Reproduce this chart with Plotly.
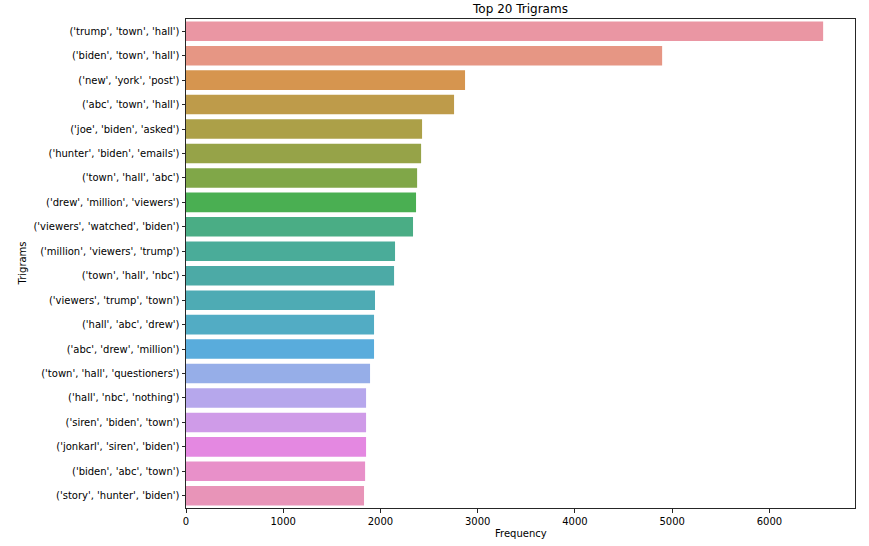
import plotly.graph_objects as go

trigrams = [
    "('trump', 'town', 'hall')",
    "('biden', 'town', 'hall')",
    "('new', 'york', 'post')",
    "('abc', 'town', 'hall')",
    "('joe', 'biden', 'asked')",
    "('hunter', 'biden', 'emails')",
    "('town', 'hall', 'abc')",
    "('drew', 'million', 'viewers')",
    "('viewers', 'watched', 'biden')",
    "('million', 'viewers', 'trump')",
    "('town', 'hall', 'nbc')",
    "('viewers', 'trump', 'town')",
    "('hall', 'abc', 'drew')",
    "('abc', 'drew', 'million')",
    "('town', 'hall', 'questioners')",
    "('hall', 'nbc', 'nothing')",
    "('siren', 'biden', 'town')",
    "('jonkarl', 'siren', 'biden')",
    "('biden', 'abc', 'town')",
    "('story', 'hunter', 'biden')",
]
frequency = [6553, 4897, 2870, 2757, 2428, 2418, 2377, 2366, 2335, 2150,
             2140, 1944, 1934, 1934, 1893, 1852, 1852, 1852, 1842, 1831]
x_ticks = [0, 1000, 2000, 3000, 4000, 5000, 6000]

bar_colors = ["#EA96A3", "#E69684", "#D6954F", "#BE9B4A", "#ACA048",
              "#96A348", "#80A748", "#4AAF52", "#4AAD85", "#4AAC99",
              "#4CAAA6", "#4EABB4", "#52ACC4", "#59ACDC", "#96AEE8",
              "#B6A7EC", "#CF9BE8", "#E488E1", "#E890C9", "#E894B8"]

W, H = 869, 546
L, R, T, B = 186, 14, 19, 38

fig = go.Figure(go.Bar(
    x=frequency, y=trigrams, orientation="h",
    marker=dict(color=bar_colors, line=dict(width=0)),
    hoverinfo="x+y",
))

font = dict(family="DejaVu Sans", size=10, color="#000000")
fig.update_layout(
    width=W, height=H,
    margin=dict(l=L, r=R, t=T, b=B, autoexpand=False),
    plot_bgcolor="white", paper_bgcolor="white",
    font=font,
    bargap=0.2,
    showlegend=False,
    title=dict(text="Top 20 Trigrams", x=0.5, xref="paper",
               y=1 - 9 / H, yref="container", yanchor="middle", xanchor="center",
               font=dict(family="DejaVu Sans", size=12, color="#000000")),
)
fig.update_xaxes(
    range=[0, max(frequency) * 1.05],
    tickvals=x_ticks, ticktext=[str(v) for v in x_ticks],
    showgrid=False, zeroline=False,
    showline=True, linecolor="#262626", linewidth=1, mirror=True,
    ticks="outside", ticklen=3.5, tickwidth=0.8, tickcolor="#262626",
    tickfont=font,
)
fig.update_yaxes(
    autorange="reversed",
    showgrid=False, zeroline=False,
    showline=True, linecolor="#262626", linewidth=1, mirror=True,
    ticks="outside", ticklen=3.5, tickwidth=0.8, tickcolor="#262626",
    tickfont=font,
)
ph = H - T - B
pw = W - L - R
fig.add_annotation(text="Frequency", xref="paper", yref="paper",
                   x=0.5, y=-(533 - (H - B)) / ph, xanchor="center", yanchor="middle",
                   showarrow=False, font=font)
fig.add_annotation(text="Trigrams", xref="paper", yref="paper",
                   x=(22 - L) / pw, y=0.5, xanchor="center", yanchor="middle",
                   textangle=-90, showarrow=False, font=font)

fig.write_html("out.html",
               config={"displayModeBar": False},
               post_script="document.body.style.margin='0';document.body.style.overflow='hidden';")
